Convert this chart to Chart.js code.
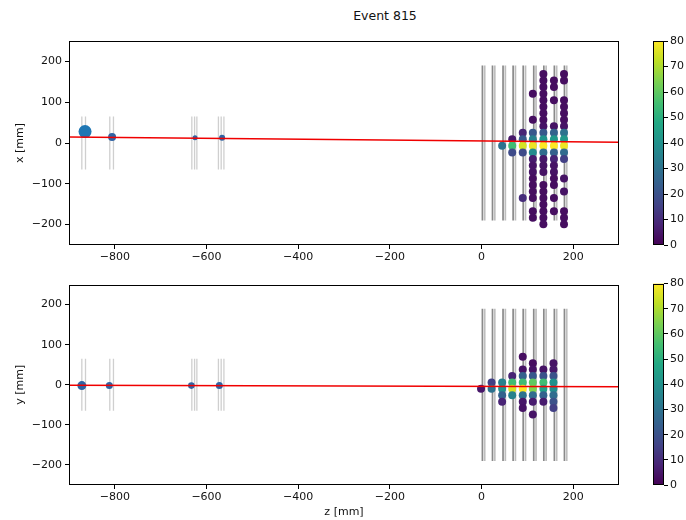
<!DOCTYPE html>
<html><head><meta charset="utf-8">
<script src="https://cdn.jsdelivr.net/npm/chart.js@4.4.1/dist/chart.umd.min.js"></script>
<style>
html,body{margin:0;padding:0;background:#fff;}
#wrap{position:relative;width:686px;height:520px;overflow:hidden;background:#fff;}
canvas{position:absolute;}
#title{position:absolute;left:285px;top:8px;width:200px;text-align:center;font-family:"DejaVu Sans";font-size:12.5px;line-height:15px;color:#111;}
</style></head>
<body>
<div id="wrap">
  <div id="title">Event 815</div>
  <canvas id="top" width="640" height="275" style="left:0;top:0"></canvas>
  <canvas id="bot" width="640" height="245" style="left:0;top:275px"></canvas>
  <canvas id="cbTop" width="46" height="275" style="left:640px;top:0"></canvas>
  <canvas id="cbBot" width="46" height="245" style="left:640px;top:275px"></canvas>
</div>
<script>
// ---------- data ----------
const xTicks = [-800, -600, -400, -200, 0, 200];
const yTicks = [-200, -100, 0, 100, 200];
const cbTicks = [0, 10, 20, 30, 40, 50, 60, 70, 80];
const zRange = [-900, 300];
const tRange = [-250, 250];
const eRange = [0, 80];

const trackZ = [-900, 300];
const trackX = [15, 2];
const trackY = [-1, -5];

const stationZa = [2, 24, 47, 69, 91, 114, 136, 159, 181];
const stationZb = [7, 29, 52, 74, 96, 119, 141, 164, 186];
const stationSpan = [-190, 190];
const tagPlaneZ = [-872, -864, -811, -803, -632, -626, -621, -574, -568, -562];
const tagSpan = [-65, 65];

const tagTopZ = [-865, -806, -625, -566];
const tagTopX = [28, 15, 13, 13];
const tagBotZ = [-872, -812, -633, -572];
const tagBotY = [-2, -2, -2, -2];

const topColZ = [45, 67, 90, 112, 135, 158, 180];
const topColX = [
  [-7],
  [9, -7, -23],
  [25, 9, -7, -23, -135],
  [121, 57, 25, 9, -7, -23, -39, -55, -71, -87, -103, -119, -135, -167, -183],
  [169, 153, 137, 121, 105, 89, 73, 57, 41, 25, 9, -7, -23, -39, -55, -71, -103, -119, -135, -151, -167, -183, -199],
  [153, 137, 105, 41, 25, 9, -7, -23, -39, -55, -71, -87, -103, -135, -167],
  [169, 153, 105, 89, 73, 57, 41, 25, 9, -7, -23, -39, -87, -119, -167, -183, -199]
];
const topColE = [
  [30],
  [5, 55, 18],
  [8, 22, 75, 18, 10],
  [3, 3, 22, 35, 78, 38, 6, 4, 4, 3, 3, 3, 3, 3, 3],
  [3, 3, 3, 3, 3, 3, 3, 3, 4, 22, 40, 80, 28, 5, 4, 4, 3, 3, 3, 3, 3, 3, 3],
  [3, 3, 3, 4, 25, 42, 80, 25, 8, 4, 4, 3, 3, 3, 3],
  [3, 3, 3, 3, 3, 3, 4, 30, 42, 78, 28, 15, 4, 4, 3, 3, 3]
];

const botColZ = [-1, 22, 45, 67, 90, 112, 135, 157];
const botColY = [
  [-10],
  [6, -10],
  [6, -10, -26, -42],
  [22, 6, -10, -26],
  [70, 38, 22, 6, -10, -26, -42, -58],
  [54, 38, 22, 6, -10, -26, -42, -74],
  [38, 22, 6, -10, -26, -42],
  [54, 38, 22, 6, -10, -26, -42, -58]
];
const botColE = [
  [5],
  [15, 30],
  [35, 40, 25, 8],
  [8, 55, 75, 35],
  [3, 4, 25, 55, 80, 30, 5, 4],
  [3, 4, 22, 60, 65, 28, 6, 4],
  [4, 20, 55, 45, 25, 6],
  [4, 5, 20, 40, 38, 28, 20, 15]
];

// ---------- colormap ----------
const VIR = ['#440154','#482475','#414487','#355f8d','#2a788e','#21918c','#22a884','#44bf70','#7ad151','#bddf26','#fde725'];
function hex(c){return [parseInt(c.slice(1,3),16),parseInt(c.slice(3,5),16),parseInt(c.slice(5,7),16)];}
function viridis(v){
  let t = (v - eRange[0]) / (eRange[1] - eRange[0]);
  t = Math.max(0, Math.min(1, t));
  const f = t * (VIR.length - 1);
  const i = Math.min(VIR.length - 2, Math.floor(f));
  const u = f - i;
  const a = hex(VIR[i]), b = hex(VIR[i+1]);
  return 'rgb(' + a.map((x,k)=>Math.round(x + (b[k]-x)*u)).join(',') + ')';
}

// ---------- helpers ----------
const FONT = {family: 'DejaVu Sans', size: 11};
Chart.defaults.font.family = 'DejaVu Sans';
Chart.defaults.color = '#111';
const fmt = v => (v < 0 ? '\u2212' + Math.abs(v) : String(v));

const boxPlugin = {
  id: 'box',
  afterDraw(chart) {
    const a = chart.chartArea, c = chart.ctx;
    c.save();
    c.strokeStyle = '#000';
    c.lineWidth = 1;
    c.strokeRect(Math.round(a.left) + 0.5, Math.round(a.top) + 0.5, Math.round(a.right - a.left) - 1, Math.round(a.bottom - a.top) - 1);
    c.restore();
  }
};

function vline(z, span, color, width, order) {
  return {data: [{x: z, y: span[0]}, {x: z, y: span[1]}], showLine: true, borderColor: color,
    borderWidth: width, pointRadius: 0, order: order};
}

function hitsDataset(colZ, colV, colE) {
  const pts = [], cols = [];
  colZ.forEach((z, i) => {
    colV[i].forEach((v, j) => { pts.push({x: z, y: v}); cols.push(viridis(colE[i][j])); });
  });
  return {data: pts, pointRadius: 4, pointBackgroundColor: cols, pointBorderWidth: 0, borderWidth: 0, showLine: false, order: 1};
}

function panel(id, cfg) {
  const ds = [];
  ds.push({data: [{x: trackZ[0], y: cfg.track[0]}, {x: trackZ[1], y: cfg.track[1]}], showLine: true,
    borderColor: '#f00000', borderWidth: 1.5, pointRadius: 0, order: 0});
  ds.push(hitsDataset(cfg.colZ, cfg.colV, cfg.colE));
  ds.push({data: cfg.tagZ.map((z, i) => ({x: z, y: cfg.tagV[i]})), pointRadius: cfg.tagR,
    pointBackgroundColor: cfg.tagColors, pointBorderWidth: 0, showLine: false, order: 2});
  stationZa.forEach(z => ds.push(vline(z, stationSpan, '#8a8a8a', 1.7, 4)));
  stationZb.forEach(z => ds.push(vline(z, stationSpan, '#bebebe', 1.7, 5)));
  tagPlaneZ.forEach(z => ds.push(vline(z, tagSpan, '#cfcfcf', 1.3, 5)));

  new Chart(document.getElementById(id), {
    type: 'scatter',
    data: {datasets: ds},
    options: {
      responsive: false, animation: false, devicePixelRatio: 1, events: [],
      layout: {padding: cfg.pad},
      plugins: {legend: {display: false}, tooltip: {enabled: false}},
      scales: {
        x: {type: 'linear', min: zRange[0], max: zRange[1],
          afterBuildTicks: s => { s.ticks = xTicks.map(v => ({value: v})); },
          afterFit: s => { s.height = cfg.xh; },
          grid: {drawOnChartArea: false, drawTicks: true, tickLength: 4, color: '#000'},
          border: {display: false},
          ticks: {font: FONT, padding: 2, maxRotation: 0, autoSkip: false, callback: fmt, color: '#111'},
          title: {display: cfg.xtitle !== '', text: cfg.xtitle, font: FONT, color: '#111', padding: {top: 0, bottom: 1}}
        },
        y: {type: 'linear', min: tRange[0], max: tRange[1],
          afterBuildTicks: s => { s.ticks = yTicks.map(v => ({value: v})); },
          afterFit: s => { s.width = 69; },
          grid: {drawOnChartArea: false, drawTicks: true, tickLength: 4, color: '#000'},
          border: {display: false},
          ticks: {font: FONT, padding: 3, callback: fmt, color: '#111'},
          title: {display: true, text: cfg.ytitle, font: FONT, color: '#111', padding: {top: 14, bottom: 0}}
        }
      }
    },
    plugins: [boxPlugin]
  });
}

function colorbar(id, pad) {
  new Chart(document.getElementById(id), {
    type: 'bar',
    data: {labels: ['e'], datasets: [{data: [eRange[1]], borderWidth: 0, categoryPercentage: 1, barPercentage: 1,
      backgroundColor: ctx => {
        const a = ctx.chart.chartArea;
        if (!a) return VIR[5];
        const g = ctx.chart.ctx.createLinearGradient(0, a.bottom, 0, a.top);
        VIR.forEach((c, i) => g.addColorStop(i / (VIR.length - 1), c));
        return g;
      }}]},
    options: {
      responsive: false, animation: false, devicePixelRatio: 1, events: [],
      layout: {padding: pad},
      plugins: {legend: {display: false}, tooltip: {enabled: false}},
      scales: {
        x: {display: false},
        y: {position: 'right', min: eRange[0], max: eRange[1],
          afterBuildTicks: s => { s.ticks = cbTicks.map(v => ({value: v})); },
          afterFit: s => { s.width = 22; },
          grid: {drawOnChartArea: false, drawTicks: true, tickLength: 4, color: '#000'},
          border: {display: false},
          ticks: {font: FONT, padding: 2, color: '#111'}
        }
      }
    },
    plugins: [boxPlugin]
  });
}

panel('top', {track: trackX, colZ: topColZ, colV: topColX, colE: topColE,
  tagZ: tagTopZ, tagV: tagTopX, tagR: [6.5, 4, 2.5, 3], tagColors: ['#1f77b4', '#2f63a3', '#2f63a3', '#2f63a3'],
  pad: {top: 41, right: 21, left: 0, bottom: 0}, xh: 30, xtitle: '', ytitle: 'x [mm]'});
panel('bot', {track: trackY, colZ: botColZ, colV: botColY, colE: botColE,
  tagZ: tagBotZ, tagV: tagBotY, tagR: [4.5, 3.5, 3.3, 3.5], tagColors: ['#2f63a3', '#2f63a3', '#2f63a3', '#2f63a3'],
  pad: {top: 5, right: 21, left: 0, bottom: 0}, xh: 35, xtitle: 'z [mm]', ytitle: 'y [mm]'});
colorbar('cbTop', {top: 41, bottom: 30, left: 13, right: 0});
colorbar('cbBot', {top: 5, bottom: 35, left: 13, right: 0});
</script>
</body></html>
